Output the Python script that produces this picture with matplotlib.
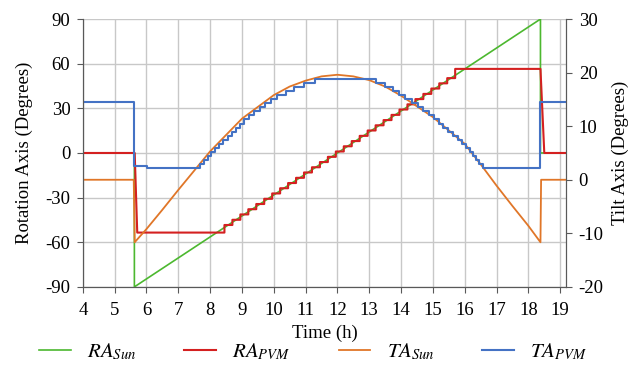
import matplotlib.pyplot as plt

plt.rcParams['font.family'] = ['Liberation Serif', 'DejaVu Serif']
plt.rcParams['mathtext.fontset'] = 'stix'
plt.rcParams['axes.unicode_minus'] = False

# RA_Sun (rotation axis, degrees, left axis)
ra_sun_t = [4, 5.62, 5.62, 18.38, 18.38, 19.19]
ra_sun = [0, 0, -90, 90, 0, 0]

# RA_PVM staircase (left axis)
ra_pvm_step_t = [5.71, 8.45, 8.70, 8.95, 9.20, 9.45, 9.70, 9.95, 10.20, 10.45, 10.70,
                 10.95, 11.20, 11.45, 11.70, 11.95, 12.20, 12.45, 12.70, 12.95, 13.20,
                 13.45, 13.70, 13.95, 14.20, 14.45, 14.70, 14.95, 15.20, 15.45, 15.70]
ra_pvm_step = [-53.5, -48.4, -44.9, -41.3, -37.8, -34.3, -30.8, -27.2, -23.7, -20.2, -16.7,
               -13.1, -9.6, -6.1, -2.6, 1.0, 4.5, 8.0, 11.5, 15.1, 18.6,
               22.1, 25.6, 29.2, 32.7, 36.2, 39.7, 43.3, 46.8, 50.3, 56.5]

# TA_Sun (tilt axis, degrees, right axis)
ta_sun_t = [4, 5.6, 5.63, 6, 6.5, 7, 8, 9, 10, 10.5, 11, 11.5, 12, 12.5, 13, 13.5,
            14, 15, 16, 16.5, 17, 17.5, 18, 18.38, 18.40, 19.19]
ta_sun = [0, 0, -11.67, -9.2, -5.6, -1.9, 5.3, 11.4, 15.8, 17.4, 18.5, 19.3, 19.6, 19.3,
          18.6, 17.4, 15.7, 11.7, 6.7, 2.9, -1.1, -4.9, -8.6, -11.67, 0, 0]

# TA_PVM staircase (right axis)
ta_pvm_step_t = [4, 5.62, 6.02, 7.68, 7.80, 7.92, 8.04, 8.16, 8.29, 8.42, 8.55, 8.68, 8.81,
                 8.94, 9.07, 9.22, 9.38, 9.56, 9.73, 9.91, 10.11, 10.37, 10.62, 10.95, 11.30,
                 13.20, 13.50, 13.75, 13.95, 14.13, 14.33, 14.52, 14.70, 14.87, 15.03, 15.18,
                 15.33, 15.49, 15.64, 15.79, 15.93, 16.05, 16.16, 16.26, 16.36, 16.46, 16.58,
                 18.38]
ta_pvm_step = [14.5, 2.6, 2.25, 3.0, 3.75, 4.5, 5.25, 6.0, 6.75, 7.5, 8.25, 9.0, 9.75,
               10.5, 11.25, 12.0, 12.75, 13.5, 14.25, 15.0, 15.75, 16.5, 17.25, 18.0, 18.75,
               18.0, 17.25, 16.5, 15.75, 15.0, 14.25, 13.5, 12.75, 12.0, 11.25, 10.5,
               9.75, 9.0, 8.25, 7.5, 6.75, 6.0, 5.25, 4.5, 3.75, 3.0, 2.25,
               14.5]

x_ticks = list(range(4, 20))
left_ticks = [-90, -60, -30, 0, 30, 60, 90]
right_ticks = [-20, -10, 0, 10, 20, 30]


def step_path(t, v):
    xs, ys = [t[0]], [v[0]]
    for i in range(1, len(t)):
        xs += [t[i], t[i]]
        ys += [v[i - 1], v[i]]
    return xs, ys


rx, ry = step_path(ra_pvm_step_t, ra_pvm_step)
rx = [4, 5.63] + rx + [18.38, 18.5, 19.19]
ry = [0, 0] + ry + [56.5, 0, 0]

bx, by = step_path(ta_pvm_step_t, ta_pvm_step)
bx = bx + [19.19]
by = by + [ta_pvm_step[-1]]

fig = plt.figure(figsize=(6.42, 3.81), dpi=100)
ax = fig.add_axes([0.129, 0.247, 0.753, 0.703])
ax2 = ax.twinx()

l1, = ax.plot(ra_sun_t, ra_sun, color='#4CB82F', lw=1.2)
l2, = ax.plot(rx, ry, color='#D42020', lw=1.5)
l3, = ax2.plot(ta_sun_t, ta_sun, color='#E07628', lw=1.3)
l4, = ax2.plot(bx, by, color='#4472C4', lw=1.5)

ax.set_xlim(4, 19.19)
ax.set_ylim(-90, 90)
ax2.set_ylim(-20, 30)
ax.set_xticks(x_ticks)
ax.set_yticks(left_ticks)
ax2.set_yticks(right_ticks)
ax.grid(True, color='#c8c8c8', lw=1)
ax.set_axisbelow(True)

for a in (ax, ax2):
    a.spines['top'].set_visible(False)
    for s in ('left', 'right', 'bottom'):
        a.spines[s].set_color('#595959')
    a.tick_params(direction='out', length=4, color='#595959', labelsize=13.5, pad=5)
ax.tick_params(axis='x', pad=7)

ax.set_xlabel('Time (h)', fontsize=13.5, labelpad=4)
ax.set_ylabel('Rotation Axis (Degrees)', fontsize=13.5, labelpad=9)
ax2.set_ylabel('Tilt Axis (Degrees)', fontsize=13.5, labelpad=6)

fig.legend([l1, l2, l3, l4],
           ['$RA_{Sun}$', '$RA_{PVM}$', '$TA_{Sun}$', '$TA_{PVM}$'],
           loc='center', bbox_to_anchor=(0.488, 0.075), ncol=4, frameon=False,
           fontsize=15, handlelength=1.5, columnspacing=2.3, handletextpad=0.8)

fig.savefig('out.png', dpi=100)
